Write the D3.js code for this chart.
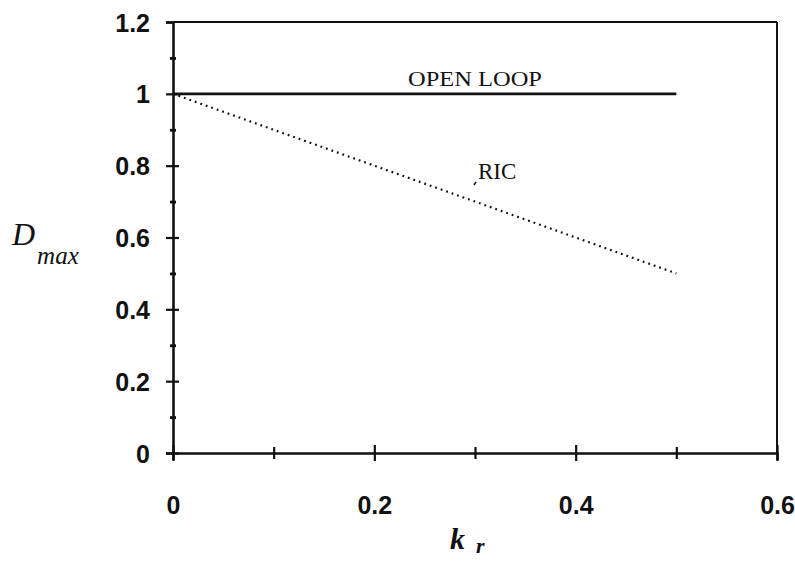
<!DOCTYPE html>
<html>
<head>
<meta charset="utf-8">
<script src="https://cdn.jsdelivr.net/npm/d3@7"></script>
<style>
  html, body { margin: 0; padding: 0; background: #fff; }
  svg { display: block; }
</style>
</head>
<body>
<svg id="chart" width="795" height="561"></svg>
<script>
// ---- data ----
const kr = [0, 0.05, 0.1, 0.15, 0.2, 0.25, 0.3, 0.35, 0.4, 0.45, 0.5];
const ricValues = [1.0, 0.95, 0.9, 0.85, 0.8, 0.75, 0.7, 0.65, 0.6, 0.55, 0.5];
const openLoopX = [0, 0.5];
const openLoopValues = [1.0, 1.0];
const xMajorTicks = [0, 0.2, 0.4, 0.6];
const xMinorTicks = [0.1, 0.3, 0.5];
const yMajorTicks = [0, 0.2, 0.4, 0.6, 0.8, 1.0, 1.2];
const yMinorTicks = [0.1, 0.3, 0.5, 0.7, 0.9, 1.1];
const yTickLabels = ["0", "0.2", "0.4", "0.6", "0.8", "1", "1.2"];
const xTickLabels = ["0", "0.2", "0.4", "0.6"];

// ---- layout ----
const svg = d3.select("#chart");
const pLeft = 173, pRight = 777, pTop = 22, pBottom = 453;
const x = d3.scaleLinear().domain([0, 0.6]).range([pLeft, pRight]);
const y = d3.scaleLinear().domain([0, 1.2]).range([pBottom, pTop]);

const ink = "#111";

// frame (top, right)
svg.append("line").attr("x1", pLeft).attr("x2", pRight).attr("y1", pTop).attr("y2", pTop)
  .attr("stroke", ink).attr("stroke-width", 2.2);
svg.append("line").attr("x1", pRight).attr("x2", pRight).attr("y1", pTop).attr("y2", pBottom)
  .attr("stroke", ink).attr("stroke-width", 2);

// y axis
const yAxis = svg.append("g").attr("transform", `translate(${pLeft},0)`)
  .call(d3.axisLeft(y).tickValues(yMajorTicks)
    .tickFormat((d, i) => yTickLabels[i]).tickSize(7).tickPadding(16));
yAxis.select(".domain").attr("stroke", ink).attr("stroke-width", 2.6);
yAxis.selectAll(".tick line").attr("x1", 6).attr("x2", -7).attr("stroke", ink).attr("stroke-width", 2.2);
yAxis.selectAll(".tick text").attr("font-family", "Liberation Sans, Arial, sans-serif")
  .attr("font-weight", "bold").attr("font-size", 25).attr("fill", ink).attr("dy", "0.36em");
yAxis.selectAll(".tick").filter(d => d === 1.2).select("line").attr("x1", 0);

const yMinor = svg.append("g").attr("transform", `translate(${pLeft},0)`)
  .call(d3.axisLeft(y).tickValues(yMinorTicks).tickFormat("").tickSize(3));
yMinor.select(".domain").remove();
yMinor.selectAll(".tick line").attr("x1", 3).attr("x2", -3).attr("stroke", ink).attr("stroke-width", 2.8);

// x axis
const xAxis = svg.append("g").attr("transform", `translate(0,${pBottom})`)
  .call(d3.axisBottom(x).tickValues(xMajorTicks)
    .tickFormat((d, i) => xTickLabels[i]).tickSize(7).tickPadding(54));
xAxis.select(".domain").attr("stroke", ink).attr("stroke-width", 2.6);
xAxis.selectAll(".tick line").attr("y1", -8).attr("y2", 8).attr("stroke", ink).attr("stroke-width", 2.2);
xAxis.selectAll(".tick text").attr("font-family", "Liberation Sans, Arial, sans-serif")
  .attr("font-weight", "bold").attr("font-size", 25).attr("fill", ink).attr("dy", "0");

const xMinor = svg.append("g").attr("transform", `translate(0,${pBottom})`)
  .call(d3.axisBottom(x).tickValues(xMinorTicks).tickFormat("").tickSize(6));
xMinor.select(".domain").remove();
xMinor.selectAll(".tick line").attr("y1", -6).attr("y2", 6).attr("stroke", ink).attr("stroke-width", 2.2);

// open loop line
const line = d3.line().x(d => x(d[0])).y(d => y(d[1]));
svg.append("path")
  .datum(openLoopX.map((d, i) => [d, openLoopValues[i]]))
  .attr("d", line).attr("fill", "none").attr("stroke", ink).attr("stroke-width", 2.8);

// RIC dotted line
svg.append("path")
  .datum(kr.map((d, i) => [d, ricValues[i]]))
  .attr("d", line).attr("fill", "none").attr("stroke", ink).attr("stroke-width", 2.2)
  .attr("stroke-dasharray", "1.8,4");

// labels
svg.append("text").attr("x", x(0.3)).attr("y", y(1.0) - 8)
  .attr("text-anchor", "middle")
  .attr("font-family", "Liberation Serif, Times New Roman, serif")
  .attr("font-size", 21).attr("fill", ink)
  .attr("textLength", 134).attr("lengthAdjust", "spacingAndGlyphs")
  .text("OPEN LOOP");

svg.append("text").attr("x", 478).attr("y", 179)
  .attr("font-family", "Liberation Serif, Times New Roman, serif")
  .attr("font-size", 23).attr("fill", ink)
  .text("RIC");
svg.append("line").attr("x1", 476).attr("y1", 182).attr("x2", 474).attr("y2", 185)
  .attr("stroke", ink).attr("stroke-width", 1.5);

// axis titles
const xt = svg.append("text").attr("x", 450).attr("y", 549)
  .attr("font-family", "Liberation Serif, Times New Roman, serif")
  .attr("font-style", "italic").attr("font-weight", "bold").attr("fill", ink);
xt.append("tspan").attr("font-size", 30).text("k");
xt.append("tspan").attr("font-size", 22).attr("dx", 11).attr("dy", 4).text("r");

const yt = svg.append("text").attr("x", 12).attr("y", 245)
  .attr("font-family", "Liberation Serif, Times New Roman, serif")
  .attr("font-style", "italic").attr("fill", ink);
yt.append("tspan").attr("font-size", 32).text("D");
yt.append("tspan").attr("font-size", 25).attr("dx", 2).attr("dy", 19).text("max");
</script>
</body>
</html>
